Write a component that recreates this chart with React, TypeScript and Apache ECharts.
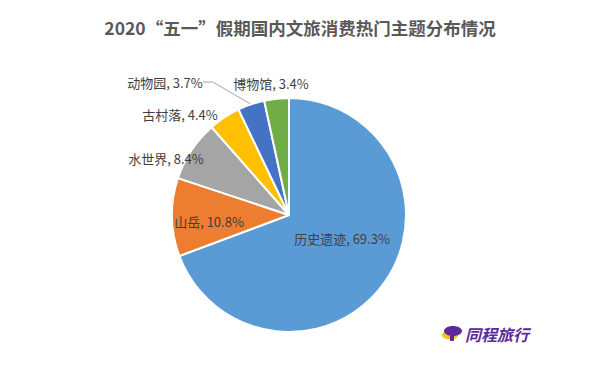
import React, { useEffect, useRef } from "react";
import * as echarts from "echarts";

const categories = ["历史遗迹", "山岳", "水世界", "古村落", "动物园", "博物馆"];
const values = [69.3, 10.8, 8.4, 4.4, 3.7, 3.4];
const colors = ["#5B9BD5", "#ED7D31", "#A5A5A5", "#FFC000", "#4472C4", "#70AD47"];
const labelPos: [number, number][] = [
  [342, 238],
  [209, 221],
  [166, 158],
  [180, 114],
  [165, 82],
  [271, 83],
];
const titleText = "2020“五一”假期国内文旅消费热门主题分布情况";
const brandText = "同程旅行";

const FONT = "'Noto Sans CJK SC', 'Noto Sans', sans-serif";

export default function App() {
  const ref = useRef<HTMLDivElement>(null);
  useEffect(() => {
    if (!ref.current) return;
    const chart = echarts.init(ref.current, undefined, { renderer: "svg" });
    chart.setOption({
      animation: false,
      backgroundColor: "#ffffff",
      title: {
        text: titleText,
        left: "center",
        top: 14,
        textStyle: { fontFamily: FONT, fontSize: 17.5, fontWeight: "bold", color: "#595959" },
      },
      graphic: [
        { type: "ellipse", shape: { cx: 450, cy: 335, rx: 8, ry: 4.5 }, style: { fill: "#F5C518" } },
        { type: "ellipse", shape: { cx: 453, cy: 331, rx: 9, ry: 5 }, style: { fill: "#5B2A9A" } },
        { type: "rect", shape: { x: 450, y: 333, width: 4, height: 8, r: 1 }, style: { fill: "#5B2A9A" } },
        {
          type: "text",
          x: 465,
          y: 334,
          style: {
            text: brandText,
            fontFamily: FONT,
            fontSize: 16,
            fontWeight: "bold",
            fontStyle: "italic",
            fill: "#5B2A9A",
            verticalAlign: "middle",
          },
        },
      ],
      series: [
        {
          type: "pie",
          center: [289, 215],
          radius: 117,
          startAngle: 90,
          clockwise: true,
          itemStyle: { borderColor: "#ffffff", borderWidth: 2 },
          label: {
            show: true,
            position: "outside",
            formatter: (p: any) => `${p.name}, ${p.value}%`,
            fontFamily: FONT,
            fontSize: 13,
            color: "#404040",
          },
          labelLine: { show: false },
          labelLayout: (p: any) => {
            const pos = labelPos[p.dataIndex];
            return { x: pos[0], y: pos[1], align: "center", verticalAlign: "middle" };
          },
          data: categories.map((name, i) => ({
            name,
            value: values[i],
            itemStyle: { color: colors[i] },
            labelLine:
              i === 4
                ? { show: true, length: 10, length2: 10, lineStyle: { color: "#A6A6A6", width: 1 } }
                : { show: false },
          })),
        },
      ],
    });
    return () => chart.dispose();
  }, []);
  return <div ref={ref} style={{ position: "fixed", left: 0, top: 0, width: 600, height: 383 }} />;
}
